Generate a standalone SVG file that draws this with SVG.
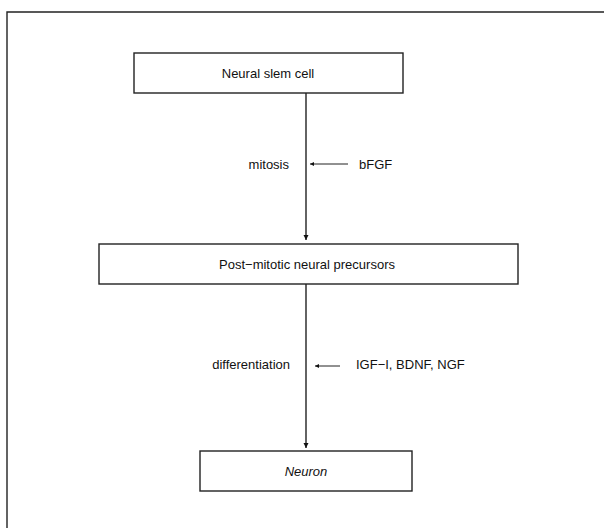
<svg xmlns="http://www.w3.org/2000/svg" width="604" height="528" viewBox="0 0 604 528">
<defs>
<style>
.box{fill:#fff;stroke:#222;stroke-width:1.4}
.lbl{font-family:"Liberation Sans",Arial,sans-serif;font-size:13px;fill:#111}
.ln{stroke:#222;stroke-width:1.4;fill:none}
.thin{stroke:#222;stroke-width:1;fill:none}
</style>
<marker id="ah" viewBox="0 0 10 10" refX="10" refY="5" markerWidth="5" markerHeight="9" orient="auto" markerUnits="userSpaceOnUse">
<path d="M0,0 L10,5 L0,10 Z" fill="#111"/>
</marker>
<marker id="ahs" viewBox="0 0 10 10" refX="10" refY="5" markerWidth="6" markerHeight="4" orient="auto" markerUnits="userSpaceOnUse">
<path d="M0,0 L10,5 L0,10 Z" fill="#111"/>
</marker>
</defs>
<rect width="604" height="528" fill="#fff"/>
<path class="ln" d="M7,528 V12 H604"/>
<g id="connectors">
<line class="ln" x1="306" y1="93" x2="306" y2="240" marker-end="url(#ah)"/>
<line class="thin" x1="348" y1="164" x2="310" y2="164" marker-end="url(#ahs)"/>
<line class="ln" x1="306" y1="284" x2="306" y2="448" marker-end="url(#ah)"/>
<line class="thin" x1="340" y1="366" x2="315" y2="366" marker-end="url(#ahs)"/>
</g>
<g id="labels">
<text class="lbl" x="289" y="169" text-anchor="end">mitosis</text>
<text class="lbl" x="359" y="169">bFGF</text>
<text class="lbl" x="290" y="369" text-anchor="end">differentiation</text>
<text class="lbl" x="356" y="369">IGF−I, BDNF, NGF</text>
</g>
<g id="neural-stem-cell">
<rect class="box" x="134" y="53" width="269" height="40"/>
<text class="lbl" x="268" y="78" text-anchor="middle">Neural slem cell</text>
</g>
<g id="post-mitotic">
<rect class="box" x="99" y="244" width="419" height="40"/>
<text class="lbl" x="307" y="269" text-anchor="middle">Post−mitotic neural precursors</text>
</g>
<g id="neuron">
<rect class="box" x="200" y="451" width="212" height="40"/>
<text class="lbl" x="306" y="476" text-anchor="middle" font-style="italic">Neuron</text>
</g>
</svg>
